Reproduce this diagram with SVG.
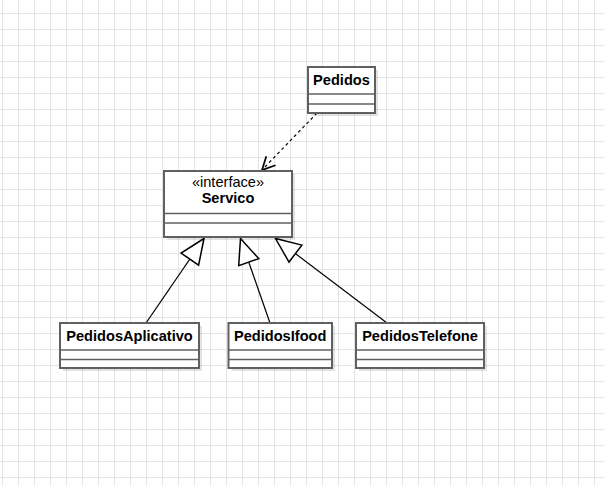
<svg xmlns="http://www.w3.org/2000/svg" width="604" height="486" viewBox="0 0 604 486">
<style>
.box{fill:#fff;stroke:#606060;stroke-width:2}
.div{stroke:#606060;stroke-width:1.6}
.sh{fill:#000;opacity:0.11}
.t{font-family:"Liberation Sans",Arial,sans-serif;font-size:14.6px;fill:#000;text-anchor:middle}
.b{font-weight:bold}
.ln{stroke:#000;stroke-width:1.2;fill:none}
</style>
<defs>
<pattern id="grid" patternUnits="userSpaceOnUse" x="2" y="13" width="16" height="16">
<path d="M0.5,0 V16 M0,0.5 H16" stroke="#e4e4e4" stroke-width="1" fill="none"/>
</pattern>
<marker id="tri" markerUnits="userSpaceOnUse" orient="auto" refX="0" refY="0" markerWidth="30" markerHeight="30" viewBox="-22 -11 24 22" overflow="visible">
<path d="M0,0 L-20,-8.5 L-20,8.5 Z" fill="#fff" stroke="#000" stroke-width="1.2"/>
</marker>
<marker id="open" markerUnits="userSpaceOnUse" orient="auto" refX="0" refY="0" markerWidth="20" markerHeight="20" viewBox="-12 -7 14 14" overflow="visible">
<path d="M-9,-4.5 L0,0 L-9,4.5" fill="none" stroke="#000" stroke-width="1.2"/>
</marker>
</defs>
<rect x="0" y="0" width="604" height="486" fill="#fff"/>
<rect x="0" y="0" width="604" height="486" fill="url(#grid)"/>

<g id="connectors">
<path class="ln" d="M317,113 L262,170" stroke-dasharray="3,3" marker-end="url(#open)"/>
<path class="ln" d="M146,323 L204,238.5" marker-end="url(#tri)"/>
<path class="ln" d="M270,323 L240.5,238.5" marker-end="url(#tri)"/>
<path class="ln" d="M387,323 L275.5,238.5" marker-end="url(#tri)"/>
</g>

<g id="Pedidos">
<rect class="sh" x="311" y="70" width="67" height="46"/>
<rect class="box" x="308" y="67" width="67" height="46"/>
<line class="div" x1="308" y1="94" x2="375" y2="94"/>
<line class="div" x1="308" y1="104" x2="375" y2="104"/>
<text class="t b" x="341.5" y="85">Pedidos</text>
</g>

<g id="Servico">
<rect class="sh" x="167" y="174" width="128" height="66"/>
<rect class="box" x="164" y="171" width="128" height="66"/>
<line class="div" x1="164" y1="213.5" x2="292" y2="213.5"/>
<line class="div" x1="164" y1="223" x2="292" y2="223"/>
<text class="t" x="228" y="186.5">«interface»</text>
<text class="t b" x="228" y="203">Servico</text>
</g>

<g id="PedidosAplicativo">
<rect class="sh" x="63" y="326" width="139" height="45"/>
<rect class="box" x="60" y="323" width="139" height="45"/>
<line class="div" x1="60" y1="350" x2="199" y2="350"/>
<line class="div" x1="60" y1="359.5" x2="199" y2="359.5"/>
<text class="t b" x="129.5" y="341.3">PedidosAplicativo</text>
</g>

<g id="PedidosIfood">
<rect class="sh" x="231.5" y="326" width="103.5" height="45"/>
<rect class="box" x="228.5" y="323" width="103.5" height="45"/>
<line class="div" x1="228.5" y1="350" x2="332" y2="350"/>
<line class="div" x1="228.5" y1="359.5" x2="332" y2="359.5"/>
<text class="t b" x="280.2" y="341.3">PedidosIfood</text>
</g>

<g id="PedidosTelefone">
<rect class="sh" x="359" y="326" width="128" height="45"/>
<rect class="box" x="356" y="323" width="128" height="45"/>
<line class="div" x1="356" y1="350" x2="484" y2="350"/>
<line class="div" x1="356" y1="359.5" x2="484" y2="359.5"/>
<text class="t b" x="420" y="341.3">PedidosTelefone</text>
</g>
</svg>
